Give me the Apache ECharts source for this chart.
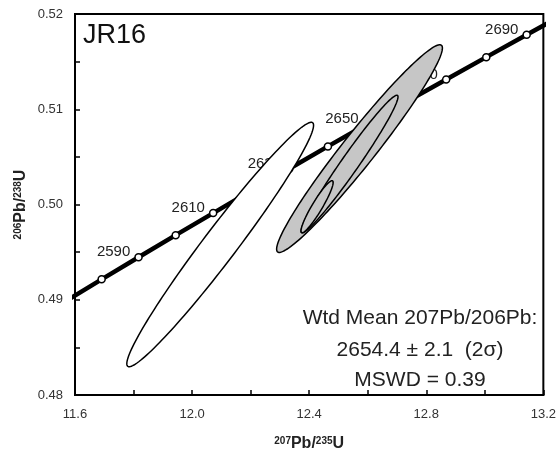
<!DOCTYPE html>
<html>
<head>
<meta charset="utf-8">
<script src="https://cdn.jsdelivr.net/npm/echarts@6/dist/echarts.min.js"></script>
<style>
  html, body { margin: 0; padding: 0; background: #fff; }
  #chart { width: 559px; height: 457px; }
</style>
</head>
<body>
<div id="chart"></div>
<script>
// concordia ages (Ma) and their positions
const ages = [2570, 2580, 2590, 2600, 2610, 2620, 2630, 2640, 2650, 2660, 2670, 2680, 2690, 2700];
const concX = [11.567, 11.691, 11.817, 11.944, 12.072, 12.201, 12.332, 12.464, 12.597, 12.732, 12.868, 13.005, 13.143, 13.283];
const concY = [0.48983, 0.49214, 0.49446, 0.49678, 0.49910, 0.50143, 0.50376, 0.50610, 0.50843, 0.51078, 0.51312, 0.51547, 0.51782, 0.52018];
const labelAges = [2590, 2610, 2630, 2650, 2670, 2690];

// error ellipses: centre, half extent in x and y, correlation
// first one is the open (white) ellipse, the rest are shaded
const ellX = [12.096, 12.572, 12.538, 12.427];
const ellY = [0.4958, 0.50587, 0.50425, 0.49977];
const ellSX = [0.319, 0.2832, 0.1655, 0.0549];
const ellSY = [0.01283, 0.0109, 0.00722, 0.00273];
const ellRho = [0.975, 0.968, 0.976, 0.93];

const xTicks = [11.6, 12.0, 12.4, 12.8, 13.2];
const yTicks = [0.48, 0.49, 0.50, 0.51, 0.52];

let myChart = echarts.init(document.getElementById('chart'));

function ellipseData(from, to) {
  let out = [];
  for (let i = from; i < to; i++) {
    out.push([ellX[i], ellY[i], ellSX[i], ellSY[i], ellRho[i]]);
  }
  return out;
}

function ellipseRenderer(fill) {
  return function (params, api) {
    let cx = api.value(0), cy = api.value(1);
    let sx = api.value(2), sy = api.value(3), r = api.value(4);
    let pts = [];
    for (let k = 0; k < 160; k++) {
      let t = (k / 160) * Math.PI * 2;
      let x = cx + sx * Math.cos(t);
      let y = cy + sy * (r * Math.cos(t) + Math.sqrt(1 - r * r) * Math.sin(t));
      pts.push(api.coord([x, y]));
    }
    return {
      type: 'polygon',
      shape: { points: pts },
      style: { fill: fill, stroke: '#000', lineWidth: 1.5 }
    };
  };
}

function isTick(v, list) {
  return list.some(function (t) { return Math.abs(t - v) < 1e-6; });
}

let concData = ages.map(function (a, i) {
  let inside = concX[i] > 11.6 && concX[i] < 13.2;
  return {
    value: [concX[i], concY[i]],
    symbol: inside ? 'circle' : 'none',
    label: { show: labelAges.indexOf(a) >= 0, formatter: String(a) }
  };
});

let axisName = {
  main: { fontSize: 16, fontWeight: 'bold', color: '#222', fontFamily: 'Liberation Sans' },
  sup: { fontSize: 10, fontWeight: 'bold', color: '#222', fontFamily: 'Liberation Sans', verticalAlign: 'top', lineHeight: 12 }
};

let option = {
  animation: false,
  grid: {
    left: 75, right: 15, top: 14, bottom: 60,
    show: true, borderColor: '#000', borderWidth: 2
  },
  xAxis: {
    type: 'value',
    min: 11.6, max: 13.2, interval: 0.2,
    name: '{sup|207}{main|Pb/}{sup|235}{main|U}',
    nameLocation: 'middle',
    nameGap: 41,
    nameMoveOverlap: false,
    nameTextStyle: { rich: axisName },
    axisLine: { lineStyle: { color: '#000', width: 2 } },
    axisTick: { inside: true, length: 5, lineStyle: { color: '#000', width: 1.5 } },
    splitLine: { show: false },
    axisLabel: {
      margin: 13,
      color: '#333', fontSize: 13, fontFamily: 'Liberation Sans',
      formatter: function (v) { return isTick(v, xTicks) ? v.toFixed(1) : ''; }
    }
  },
  yAxis: {
    type: 'value',
    min: 0.48, max: 0.52, interval: 0.005,
    name: '{sup|206}{main|Pb/}{sup|238}{main|U}',
    nameLocation: 'middle',
    nameRotate: 90,
    nameGap: 46,
    nameMoveOverlap: false,
    nameTextStyle: { rich: axisName },
    axisLine: { lineStyle: { color: '#000', width: 2 } },
    axisTick: { inside: true, length: 5, lineStyle: { color: '#000', width: 1.5 } },
    splitLine: { show: false },
    axisLabel: {
      margin: 12,
      color: '#333', fontSize: 13, fontFamily: 'Liberation Sans',
      formatter: function (v) { return isTick(v, yTicks) ? v.toFixed(2) : ''; }
    }
  },
  graphic: [
    {
      type: 'text', left: 83, top: 22,
      style: { text: 'JR16', fontSize: 27, fontFamily: 'Liberation Sans', fill: '#111' }
    },
    {
      type: 'text', x: 420, y: 318,
      style: { text: 'Wtd Mean 207Pb/206Pb:', fontSize: 21, fontFamily: 'Liberation Sans', fill: '#222', align: 'center', verticalAlign: 'middle' }
    },
    {
      type: 'text', x: 420, y: 350,
      style: { text: '2654.4 ± 2.1  (2σ)', fontSize: 21, fontFamily: 'Liberation Sans', fill: '#222', align: 'center', verticalAlign: 'middle' }
    },
    {
      type: 'text', x: 420, y: 380,
      style: { text: 'MSWD = 0.39', fontSize: 21, fontFamily: 'Liberation Sans', fill: '#222', align: 'center', verticalAlign: 'middle' }
    }
  ],
  series: [
    {
      name: 'concordia',
      type: 'line',
      z: 2,
      data: concData,
      symbolSize: 7,
      clip: true,
      lineStyle: { color: '#000', width: 4.5 },
      itemStyle: { color: '#fff', borderColor: '#000', borderWidth: 1.5 },
      label: {
        position: 'left', distance: 4, offset: [0, -5],
        fontSize: 15, color: '#222', fontFamily: 'Liberation Sans'
      }
    },
    {
      name: 'open',
      type: 'custom',
      z: 3,
      clip: true,
      encode: { x: 0, y: 1 },
      data: ellipseData(0, 1),
      renderItem: ellipseRenderer('#fff')
    },
    {
      name: 'shaded',
      type: 'custom',
      z: 4,
      clip: true,
      encode: { x: 0, y: 1 },
      data: ellipseData(1, ellX.length),
      renderItem: ellipseRenderer('#c6c6c6')
    }
  ]
};

myChart.setOption(option);
</script>
</body>
</html>
